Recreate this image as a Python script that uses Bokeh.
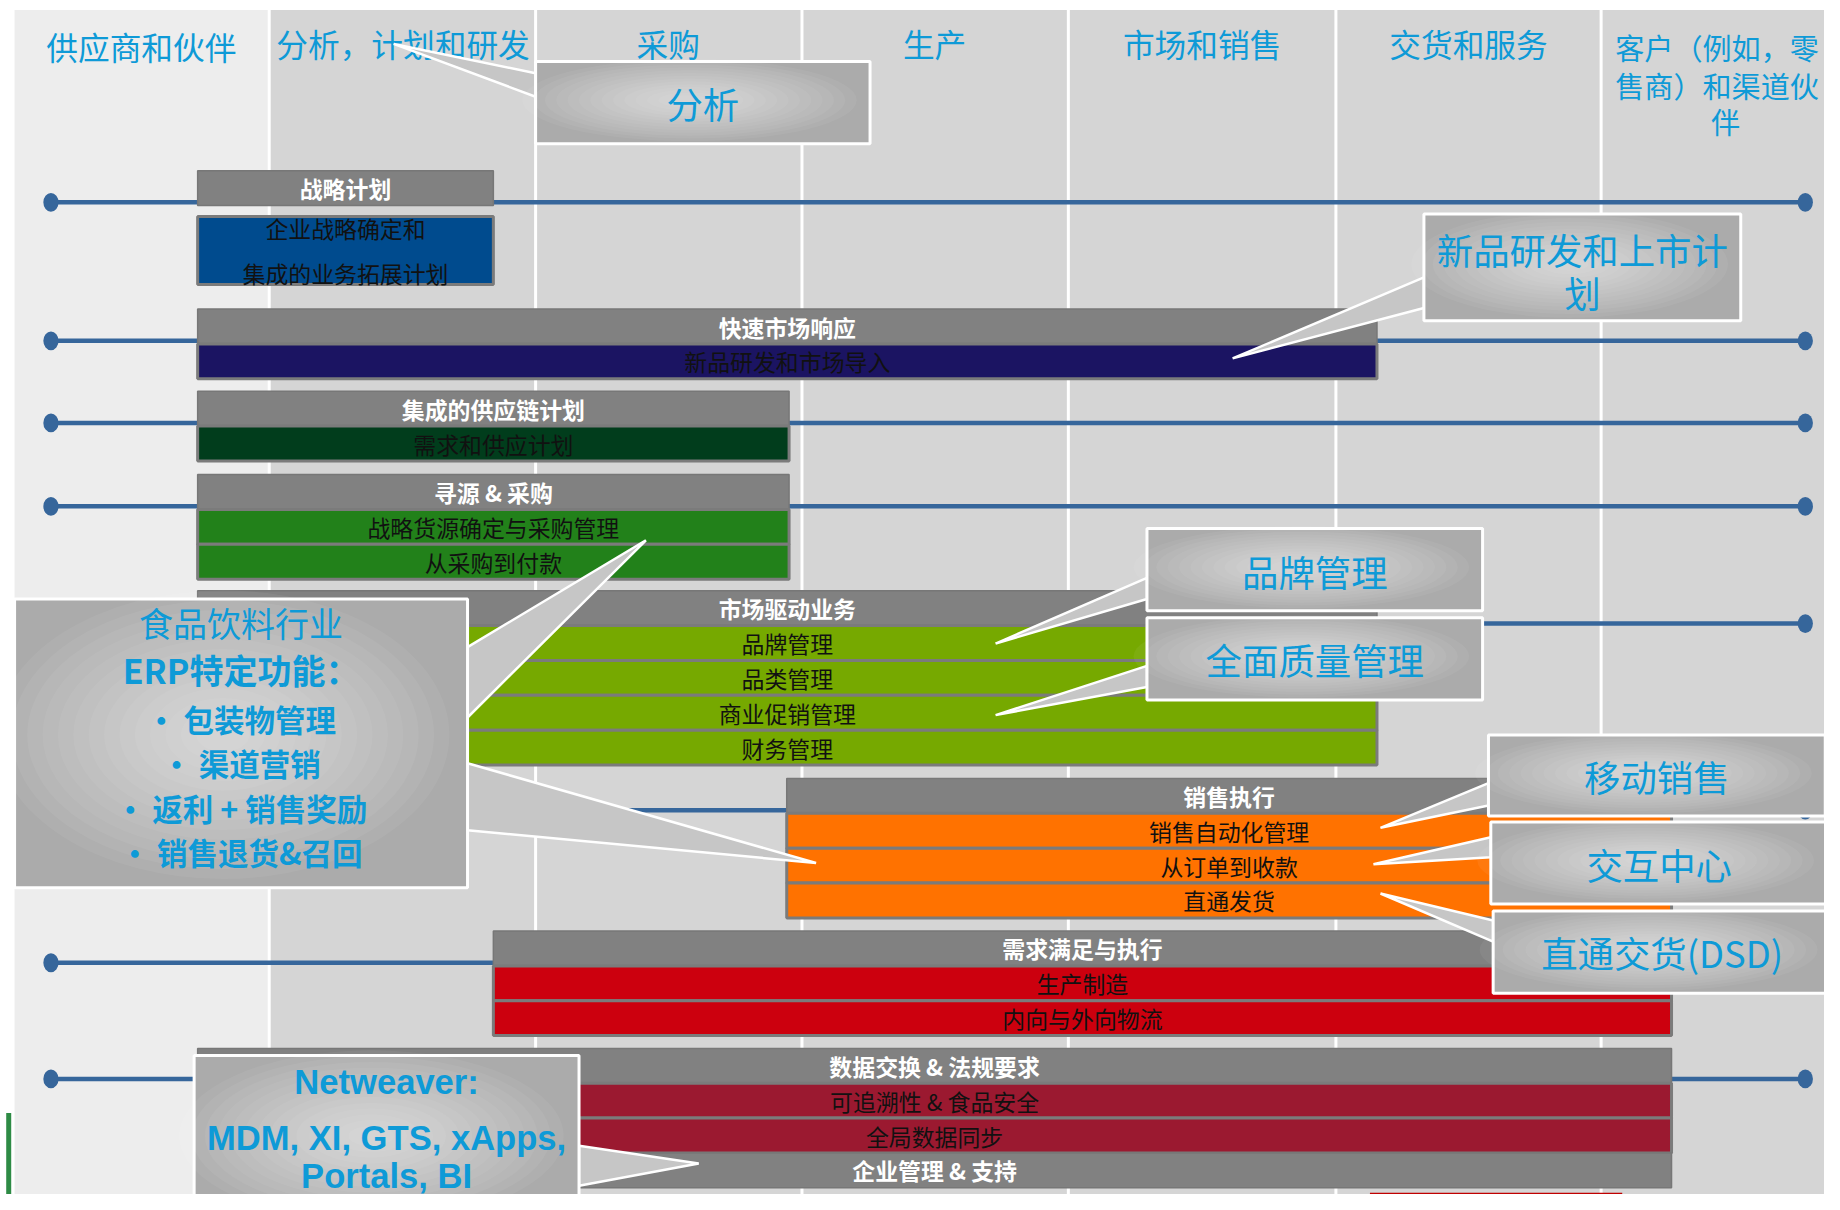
from bokeh.plotting import figure
from bokeh.models import Range1d
from bokeh.core.properties import value
from bokeh.embed import file_html
from bokeh.resources import INLINE

# ---------------- data (texts) ----------------
column_labels = ["供应商和伙伴", "分析，计划和研发", "采购", "生产", "市场和销售", "交货和服务"]
customer_label = ["客户（例如，零", "售商）和渠道伙", "伴"]

group_titles = ["战略计划", "快速市场响应", "集成的供应链计划", "寻源 & 采购",
                "市场驱动业务", "销售执行", "需求满足与执行", "数据交换 & 法规要求"]
group_items = [
    [],
    ["新品研发和市场导入"],
    ["需求和供应计划"],
    ["战略货源确定与采购管理", "从采购到付款"],
    ["品牌管理", "品类管理", "商业促销管理", "财务管理"],
    ["销售自动化管理", "从订单到收款", "直通发货"],
    ["生产制造", "内向与外向物流"],
    ["可追溯性 & 食品安全", "全局数据同步"],
]
strategy_lines = ["企业战略确定和", "集成的业务拓展计划"]
support_title = "企业管理 & 支持"

callout_texts = [
    ["分析"],
    ["新品研发和上市计", "划"],
    ["品牌管理"],
    ["全面质量管理"],
    ["移动销售"],
    ["交互中心"],
    ["直通交货(DSD)"],
]
food_title = ["食品饮料行业", "ERP特定功能："]
food_bullets = ["• 包装物管理", "• 渠道营销", "• 返利 + 销售奖励", "• 销售退货&召回"]
netweaver_lines = ["Netweaver:", "MDM, XI, GTS, xApps,", "Portals, BI"]

# ---------------- layout ----------------
K = 1840 / 1568.0
def fs(d):
    return f"{d*K:.1f}px"

CJK = value("Noto Sans CJK SC")
BLUE_TXT = "#0E9AD7"

x0 = 0.0
y0 = 0.0
p = figure(width=1824, height=1194,
           x_range=Range1d(x0, x0 + 1824 / K),
           y_range=Range1d(y0 + 1194 / K, y0),
           output_backend="svg", toolbar_location=None, min_border=0)
p.axis.visible = False
p.grid.visible = False
p.outline_line_color = None
p.background_fill_color = "white"
p.border_fill_color = "white"

# columns
col_edges = [12, 229, 456, 683, 910, 1138, 1364, 1575]
col_fill = ["#EDEDED"] + ["#D5D5D5"] * 6 + ["#EDEDED"]
for i in range(7):
    p.quad(left=col_edges[i], right=col_edges[i + 1], top=8, bottom=1022,
           fill_color=col_fill[i], line_color=None)
for xe in col_edges[1:7]:
    p.segment(x0=xe, y0=8, x1=xe, y1=1022, line_color="white", line_width=3)

# column labels
lab_x = [120, 343, 569, 796, 1024, 1251]
lab_y = [39, 36, 36, 36, 36, 36]
p.text(x=lab_x, y=lab_y, text=column_labels, text_font=CJK, text_font_size=fs(27),
       text_color=BLUE_TXT, text_align="center", text_baseline="middle")
p.text(x=[1376] * 2, y=[40, 72], text=customer_label[:2], text_font=CJK,
       text_font_size=fs(24.8), text_color=BLUE_TXT, text_align="left", text_baseline="middle")
p.text(x=[1470], y=[103], text=customer_label[2:], text_font=CJK,
       text_font_size=fs(24.8), text_color=BLUE_TXT, text_align="center", text_baseline="middle")

# bottom decoration
p.segment(x0=7, y0=948, x1=7, y1=1021, line_color="#2E8B45", line_width=5)
p.segment(x0=7, y0=1021, x1=120, y1=1021, line_color="#2E8B45", line_width=5)
p.segment(x0=120, y0=1021, x1=165, y1=1021, line_color="#7FB140", line_width=5)
p.segment(x0=165, y0=1021, x1=1100, y1=1021, line_color="#2A6374", line_width=5)
p.segment(x0=1100, y0=1021, x1=1575, y1=1021, line_color="#2F4B7C", line_width=5)
p.quad(left=1167, right=1382, top=1016, bottom=1035, fill_color="#C00000", line_color=None)

# blue process lines
line_y = [172, 290, 360, 431, 531, 690, 820, 919]
p.segment(x0=[43] * 8, y0=line_y, x1=[1538] * 8, y1=line_y, line_color="#36669B", line_width=4.5)
p.ellipse(x=[43] * 8 + [1538] * 8, y=line_y + line_y, width=13, height=16,
          fill_color="#36669B", line_color=None)

# bars
ROW = 29.7
group_left = [168, 168, 168, 168, 168, 670, 420, 168]
group_right = [420, 1173, 672, 672, 1173, 1424, 1424, 1424]
group_top = [145, 263, 333, 404, 503, 663, 793, 893]
group_color = ["#004B8E", "#1B1462", "#013D1C", "#22811A", "#76A900", "#FF7200", "#CC000E", "#9B1930"]

def bar_text(x, y, t, color, bold=False):
    p.text(x=[x], y=[y], text=[t], text_font=CJK, text_font_size=fs(19.5),
           text_color=color, text_align="center", text_baseline="middle",
           text_font_style="bold" if bold else "normal")

for g in range(8):
    L, R, T = group_left[g], group_right[g], group_top[g]
    cx = (L + R) / 2
    p.quad(left=L, right=R, top=T, bottom=T + ROW, fill_color="#818181",
           line_color="#777777", line_width=1.5)
    bar_text(cx, T + ROW / 2, group_titles[g], "white", bold=True)
    if g == 0:
        p.quad(left=L, right=R, top=184, bottom=242, fill_color=group_color[g],
               line_color="#7B7B7B", line_width=3)
        bar_text(cx, 194, strategy_lines[0], "#111111")
        bar_text(cx, 232, strategy_lines[1], "#111111")
        continue
    for j, item in enumerate(group_items[g]):
        top = T + ROW * (j + 1)
        p.quad(left=L, right=R, top=top, bottom=top + ROW, fill_color=group_color[g],
               line_color="#7B7B7B", line_width=3)
        bar_text(cx, top + ROW / 2, item, "#111111")
    if g == 7:
        top = T + ROW * 3
        p.quad(left=L, right=R, top=top, bottom=top + ROW, fill_color="#818181",
               line_color="#777777", line_width=1.5)
        bar_text(cx, top + ROW / 2, support_title, "white", bold=True)

# callouts
def callout(bx0, by0, bx1, by1, pointers):
    for (side, ya, yb, tx, ty) in pointers:
        bx = bx0 if side == "L" else bx1
        p.patch([bx, tx, bx], [ya, ty, yb], fill_color="#C6C6C6",
                line_color="white", line_width=2.5)
    p.quad(left=bx0, right=bx1, top=by0, bottom=by1, fill_color="#ABABAB", line_color=None)
    w, h = bx1 - bx0, by1 - by0
    cx, cy = bx0 + w * 0.46, by0 + h * 0.47
    n = 14
    for i in range(n):
        f = 0.95 * (1 - i / n) + 0.05
        p.ellipse(x=[cx], y=[cy], width=w * f, height=h * f, fill_color="white",
                  fill_alpha=0.055, line_color=None)
    p.quad(left=bx0, right=bx1, top=by0, bottom=by1, fill_color=None,
           line_color="white", line_width=3)

boxes = [
    (456, 52, 741, 122, [("L", 62, 82, 335, 37)]),
    (1213, 182, 1483, 273, [("L", 236, 262, 1050, 305)]),
    (977, 450, 1263, 520, [("L", 492, 510, 848, 548)]),
    (977, 526, 1263, 596, [("L", 567, 585, 848, 609)]),
    (1268, 626, 1555, 695, [("L", 667, 686, 1176, 705)]),
    (1270, 700, 1557, 770, [("L", 713, 730, 1170, 736)]),
    (1272, 776, 1560, 846, [("L", 784, 802, 1176, 761)]),
]
text_y = [[87], [212, 248], [486], [561], [661], [736], [811]]
for (b, ty, tl) in zip(boxes, text_y, callout_texts):
    callout(*b)
    cx = (b[0] + b[2]) / 2
    p.text(x=[cx] * len(tl), y=ty, text=tl, text_font=CJK, text_font_size=fs(31),
           text_color=BLUE_TXT, text_align="center", text_baseline="middle")

# food callout
callout(12, 510, 398, 756, [("R", 551, 611, 550, 460), ("R", 650, 707, 695, 735)])
p.text(x=[205], y=[530], text=[food_title[0]], text_font=CJK, text_font_size=fs(29),
       text_color=BLUE_TXT, text_align="center", text_baseline="middle")
p.text(x=[205], y=[570], text=[food_title[1]], text_font=CJK, text_font_size=fs(29),
       text_color=BLUE_TXT, text_align="center", text_baseline="middle", text_font_style="bold")
p.text(x=[205] * 4, y=[612, 650, 688, 726], text=food_bullets, text_font=CJK,
       text_font_size=fs(26), text_color=BLUE_TXT, text_align="center",
       text_baseline="middle", text_font_style="bold")

# netweaver callout
callout(165, 899, 493, 1045, [("R", 976, 1010, 595, 991)])
p.text(x=[329] * 3, y=[922, 969, 1002], text=netweaver_lines,
       text_font=value("Liberation Sans"), text_font_size=fs(29.5),
       text_color=BLUE_TXT, text_align="center", text_baseline="middle",
       text_font_style="bold")

open("out.html", "w").write(file_html(p, INLINE))
